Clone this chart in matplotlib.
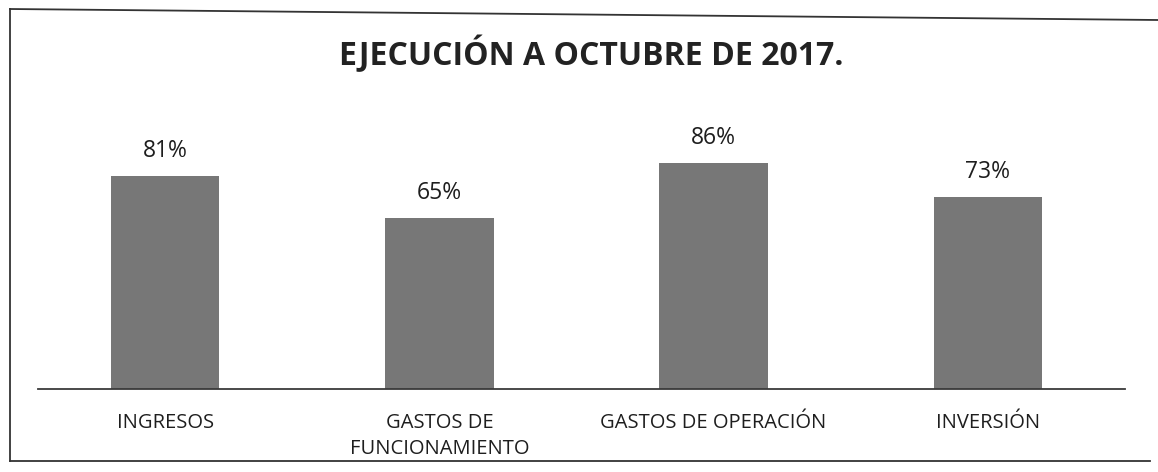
import numpy as np
import matplotlib.pyplot as plt
from matplotlib.lines import Line2D

plt.rcParams['font.family'] = ['Open Sans', 'DejaVu Sans']

categorias = ['INGRESOS', 'GASTOS DE\nFUNCIONAMIENTO', 'GASTOS DE OPERACIÓN', 'INVERSIÓN']
ejecucion = [81, 65, 86, 73]

W, H = 1158, 472
fig = plt.figure(figsize=(W/100, H/100), dpi=100)
ax = fig.add_axes([28/W, 1-389/H, (1125-28)/W, (389-100)/H])

x = np.arange(len(categorias))
bars = ax.bar(x, ejecucion, width=0.395, color='#777777')
for b, v in zip(bars, ejecucion):
    ax.annotate(f'{v}%', (b.get_x() + b.get_width()/2, v), xytext=(0, 13.5),
                textcoords='offset points', ha='center', va='baseline',
                fontsize=16.5, color='#1e1e1e')

ax.set_xlim(-0.5, len(categorias) - 0.5)
ax.set_ylim(0, 110)
ax.set_xticks(x)
ax.set_xticklabels(categorias, fontsize=14.5, color='#1e1e1e', linespacing=1.4)
ax.tick_params(axis='x', length=0, pad=17)
ax.set_yticks([])
for s in ['top', 'right', 'left']:
    ax.spines[s].set_visible(False)
ax.spines['bottom'].set_color('#3a3a3a')
ax.spines['bottom'].set_linewidth(1.3)
ax.spines['bottom'].set_bounds(-0.5 + 10/274, 3.5)

fig.text(591/W, 1-65/H, 'EJECUCIÓN A OCTUBRE DE 2017.', ha='center', va='baseline',
         fontsize=23, fontweight='bold', color='#222222')

# marco del grafico (sin lado derecho, como en el escaneo)
fig.add_artist(Line2D([10/W, 10/W], [1-9/H, 1-461/H], transform=fig.transFigure, color='#333333', lw=1.3))
fig.add_artist(Line2D([10/W, 1], [1-9/H, 1-20/H], transform=fig.transFigure, color='#333333', lw=1.3))
fig.add_artist(Line2D([10/W, 1150/W], [1-461/H, 1-461/H], transform=fig.transFigure, color='#333333', lw=1.3))

fig.savefig('out.png', dpi=100)
